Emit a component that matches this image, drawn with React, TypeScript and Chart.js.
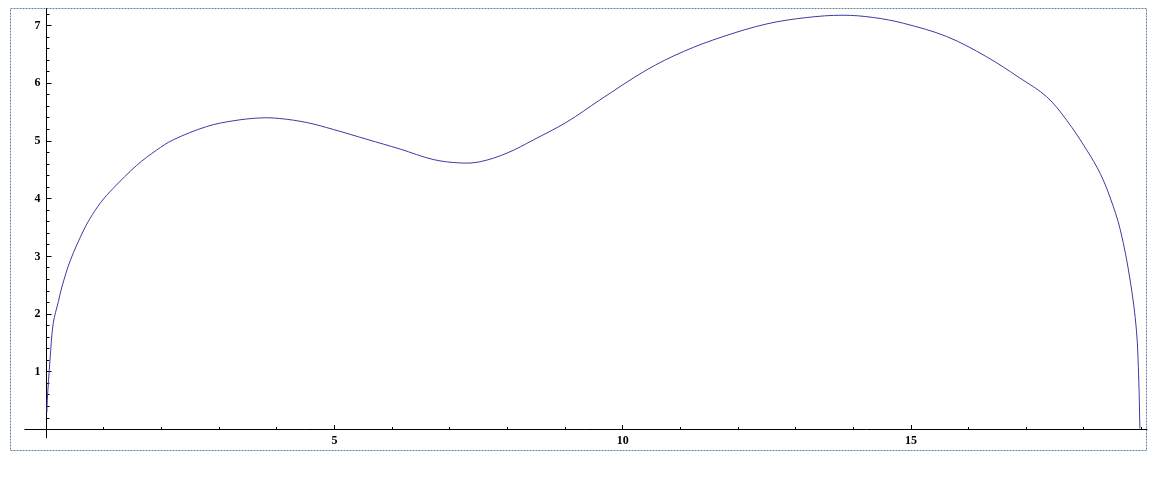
import React, { useEffect, useRef } from "react";
import { Chart, registerables } from "chart.js";

Chart.register(...registerables);

const xValues = [0.01, 0.017, 0.064, 0.12, 0.21, 0.27, 0.42, 0.65, 0.76, 0.94, 1.16, 1.57, 1.91, 2.2, 2.78, 3.24, 3.71, 4.05, 4.52, 4.98, 5.56, 6.14, 6.71, 7.18, 7.52, 7.99, 8.45, 9.03, 9.6, 10.41, 11.05, 11.74, 12.5, 13.19, 13.82, 14.35, 14.87, 15.62, 16.31, 16.89, 17.35, 17.7, 18.05, 18.28, 18.45, 18.63, 18.8, 18.91, 18.95, 18.97];
const yValues = [0.3, 0.51, 1.2, 1.84, 2.22, 2.47, 2.94, 3.46, 3.66, 3.93, 4.18, 4.58, 4.84, 5.02, 5.25, 5.35, 5.4, 5.39, 5.32, 5.2, 5.03, 4.86, 4.68, 4.62, 4.64, 4.79, 5.02, 5.33, 5.71, 6.23, 6.55, 6.81, 7.03, 7.14, 7.18, 7.14, 7.04, 6.81, 6.46, 6.09, 5.77, 5.36, 4.84, 4.44, 4.03, 3.46, 2.59, 1.72, 0.86, 0.02];

const xMajorTicks = [5, 10, 15];
const xMinorTicks = [1, 2, 3, 4, 6, 7, 8, 9, 11, 12, 13, 14, 16, 17, 18, 19];
const yMajorTicks = [1, 2, 3, 4, 5, 6, 7];
const yMinorStep = 0.2;
const yMinorMax = 7.2;

const X_MIN = -0.38;
const X_MAX = 19.1;
const Y_MIN = -0.15;
const Y_MAX = 7.3;

const snap = (v: number) => Math.floor(v) + 0.5;

const axesPlugin = {
  id: "mmaAxes",
  beforeDatasetsDraw(chart: any) {
    const { ctx, chartArea } = chart;
    const { left, right, top, bottom } = chartArea;
    const xs = chart.scales.x;
    const ys = chart.scales.y;
    const x0 = snap(xs.getPixelForValue(0));
    const y0 = snap(ys.getPixelForValue(0));
    ctx.save();

    // dashed frame
    ctx.strokeStyle = "#5f84a8";
    ctx.lineWidth = 1;
    ctx.setLineDash([2, 1]);
    ctx.strokeRect(snap(left - 14), snap(top), Math.round(right - left + 13), Math.round(bottom - top + 12));
    ctx.setLineDash([]);

    // axes
    ctx.strokeStyle = "#000";
    ctx.beginPath();
    ctx.moveTo(left, y0);
    ctx.lineTo(right, y0);
    ctx.moveTo(x0, top);
    ctx.lineTo(x0, bottom);
    ctx.stroke();

    // x ticks
    ctx.beginPath();
    for (const t of xMajorTicks) {
      const px = snap(xs.getPixelForValue(t));
      ctx.moveTo(px, y0);
      ctx.lineTo(px, y0 - 4.5);
    }
    for (const t of xMinorTicks) {
      const px = snap(xs.getPixelForValue(t));
      ctx.moveTo(px, y0);
      ctx.lineTo(px, y0 - 2.5);
    }
    // y ticks
    for (const t of yMajorTicks) {
      const py = snap(ys.getPixelForValue(t));
      ctx.moveTo(x0, py);
      ctx.lineTo(x0 + 5, py);
    }
    for (let i = 1; i * yMinorStep <= yMinorMax + 1e-9; i++) {
      const v = i * yMinorStep;
      if (Math.abs(v - Math.round(v)) < 1e-6) continue;
      const py = snap(ys.getPixelForValue(v));
      ctx.moveTo(x0, py);
      ctx.lineTo(x0 + 3, py);
    }
    ctx.stroke();

    // labels
    ctx.fillStyle = "#000";
    ctx.font = "bold 12px 'Liberation Serif', 'Times New Roman', serif";
    ctx.textAlign = "center";
    ctx.textBaseline = "middle";
    for (const t of xMajorTicks) {
      ctx.fillText(String(t), xs.getPixelForValue(t), y0 + 11);
    }
    ctx.textAlign = "right";
    for (const t of yMajorTicks) {
      ctx.fillText(String(t), x0 - 6, ys.getPixelForValue(t));
    }
    ctx.restore();
  },
};

export default function App() {
  const canvasRef = useRef<HTMLCanvasElement | null>(null);

  useEffect(() => {
    if (!canvasRef.current) return;
    const data = xValues.map((x, i) => ({ x, y: yValues[i] }));
    const chart = new Chart(canvasRef.current, {
      type: "scatter",
      data: {
        datasets: [
          {
            data,
            showLine: true,
            borderColor: "rgb(58,58,165)",
            borderWidth: 1,
            pointRadius: 0,
            fill: false,
            tension: 0.35,
          } as any,
        ],
      },
      options: {
        responsive: false,
        animation: false,
        layout: { padding: { left: 24.4, right: 14.6, top: 8.3, bottom: 39.8 } },
        plugins: { legend: { display: false }, tooltip: { enabled: false } },
        scales: {
          x: { type: "linear", min: X_MIN, max: X_MAX, display: false },
          y: { type: "linear", min: Y_MIN, max: Y_MAX, display: false },
        },
      },
      plugins: [axesPlugin],
    });
    return () => chart.destroy();
  }, []);

  return (
    <div style={{ position: "absolute", left: 0, top: 0, width: 1162, height: 478, background: "#fff" }}>
      <canvas ref={canvasRef} width={1162} height={478} />
    </div>
  );
}
